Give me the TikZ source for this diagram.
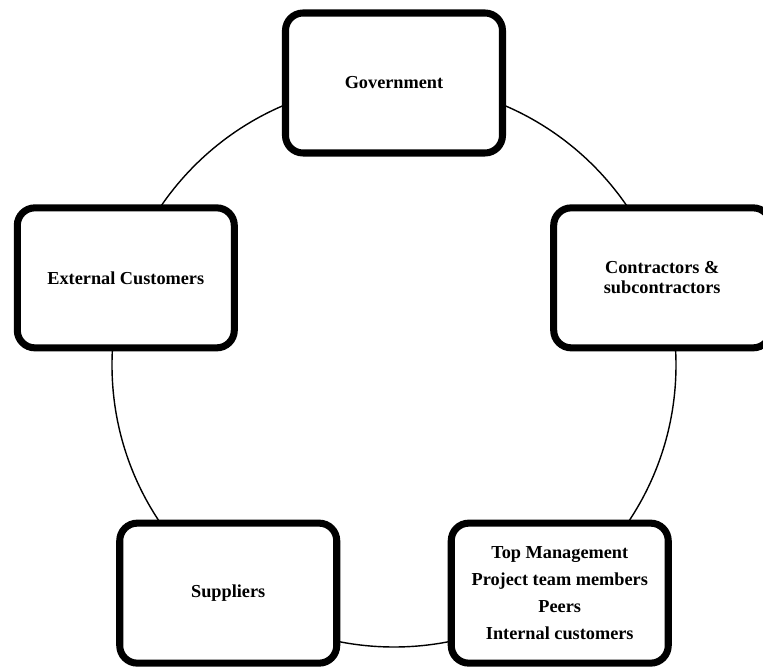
\documentclass[tikz,border=0pt]{standalone}
\usepackage{fontspec}
\setmainfont{Liberation Serif}
\usetikzlibrary{shadows}
\begin{document}
\begin{tikzpicture}
\useasboundingbox (-7.88,-6.06) rectangle (7.38,7.3);
\coordinate (Hub) at (0,0);
\draw [line width=0.8pt] (Hub) circle (5.64);

\begin{scope}[every node/.style={rectangle,rounded corners=10pt,draw,line width=4pt,fill=white,
  minimum width=4.34cm,minimum height=2.8cm,align=center,
  font=\fontsize{10.4}{11.5}\selectfont\bfseries,
  drop shadow={shadow xshift=1pt,shadow yshift=-1.5pt,opacity=0.25}}]
\node (Government) at (90:5.64) {Government};
\node (Contractors) at (18:5.64) {Contractors \&\\subcontractors};
\node (Internal) at (-54:5.64) {Top Management\\[4pt]Project team members\\[4pt]Peers\\[4pt]Internal customers};
\node (Suppliers) at (-126:5.64) {Suppliers};
\node (External) at (162:5.64) {External Customers};
\end{scope}
\end{tikzpicture}
\end{document}
